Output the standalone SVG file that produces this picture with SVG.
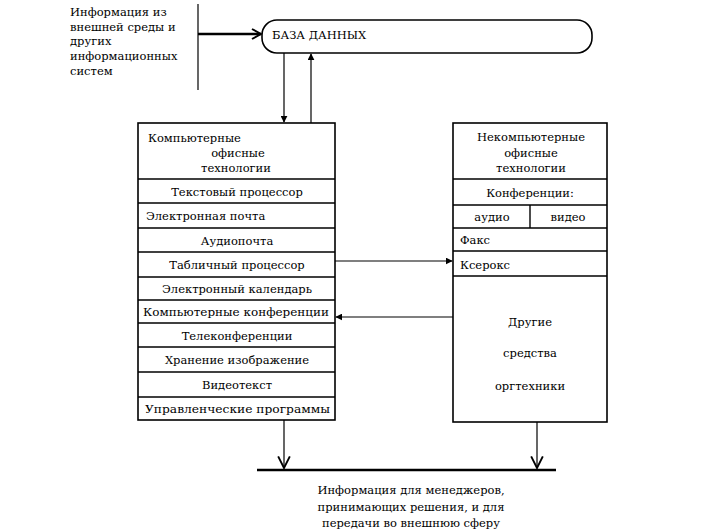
<svg xmlns="http://www.w3.org/2000/svg" width="705" height="531" viewBox="0 0 705 531">
<style>
text{font-family:"DejaVu Serif","Liberation Serif",serif;font-size:11.5px;fill:#000}
.c{text-anchor:middle}
.box{fill:#fff;stroke:#000;stroke-width:1.6}
.row{stroke:#000;stroke-width:1.4}
.ln{stroke:#000;stroke-width:1.2;fill:none}
.thick{stroke:#000;stroke-width:2.5;fill:none}
</style>
<defs>
<marker id="tri" viewBox="0 0 10 10" refX="9" refY="5" markerWidth="7" markerHeight="7" markerUnits="userSpaceOnUse" orient="auto">
<path d="M0,0 L10,5 L0,10 z" fill="#000"/>
</marker>
<marker id="vee" viewBox="0 0 12 12" refX="11" refY="6" markerWidth="14" markerHeight="14" markerUnits="userSpaceOnUse" orient="auto">
<path d="M1,1 L11,6 L1,11" fill="none" stroke="#000" stroke-width="1.6"/>
</marker>
<marker id="chev" viewBox="0 0 12 12" refX="11" refY="6" markerWidth="12" markerHeight="12" markerUnits="userSpaceOnUse" orient="auto">
<path d="M2,1 L11,6 L2,11" fill="none" stroke="#000" stroke-width="2"/>
</marker>
</defs>

<g id="source" font-family="DejaVu Serif, serif">
<text x="70" y="16">Информация из</text>
<text x="70" y="31">внешней среды и</text>
<text x="70" y="45">других</text>
<text x="70" y="60">информационных</text>
<text x="70" y="75">систем</text>
</g>

<g id="database">
<rect x="262" y="20" width="330" height="33" rx="15" ry="15" class="box"/>
<text x="272" y="39">БАЗА ДАННЫХ</text>
</g>

<g id="computer">
<rect x="138" y="123" width="197" height="297" class="box"/>
<line x1="138" y1="179" x2="335" y2="179" class="row"/>
<line x1="138" y1="203" x2="335" y2="203" class="row"/>
<line x1="138" y1="228" x2="335" y2="228" class="row"/>
<line x1="138" y1="252" x2="335" y2="252" class="row"/>
<line x1="138" y1="277" x2="335" y2="277" class="row"/>
<line x1="138" y1="300" x2="335" y2="300" class="row"/>
<line x1="138" y1="323" x2="335" y2="323" class="row"/>
<line x1="138" y1="347" x2="335" y2="347" class="row"/>
<line x1="138" y1="372" x2="335" y2="372" class="row"/>
<line x1="138" y1="397" x2="335" y2="397" class="row"/>
<text x="148" y="142">Компьютерные</text>
<text x="238" y="157" class="c">офисные</text>
<text x="236" y="172" class="c">технологии</text>
<text x="237" y="196" class="c">Текстовый процессор</text>
<text x="146" y="220">Электронная почта</text>
<text x="237" y="245" class="c">Аудиопочта</text>
<text x="237" y="269" class="c">Табличный процессор</text>
<text x="237" y="293" class="c">Электронный календарь</text>
<text x="236" y="316" class="c" textLength="186" lengthAdjust="spacingAndGlyphs">Компьютерные конференции</text>
<text x="237" y="340" class="c">Телеконференции</text>
<text x="237" y="364" class="c">Хранение изображение</text>
<text x="237" y="389" class="c">Видеотекст</text>
<text x="145" y="413" textLength="185" lengthAdjust="spacingAndGlyphs">Управленческие программы</text>
</g>

<g id="noncomputer">
<rect x="453" y="123" width="154" height="299" class="box"/>
<line x1="453" y1="179" x2="607" y2="179" class="row"/>
<line x1="453" y1="205" x2="607" y2="205" class="row"/>
<line x1="453" y1="228" x2="607" y2="228" class="row"/>
<line x1="453" y1="251" x2="607" y2="251" class="row"/>
<line x1="453" y1="276" x2="607" y2="276" class="row"/>
<line x1="530" y1="205" x2="530" y2="228" class="row"/>
<text x="531" y="141" class="c">Некомпьютерные</text>
<text x="531" y="157" class="c">офисные</text>
<text x="531" y="172" class="c">технологии</text>
<text x="530" y="197" class="c">Конференции:</text>
<text x="492" y="221" class="c">аудио</text>
<text x="568" y="221" class="c">видео</text>
<text x="460" y="244">Факс</text>
<text x="460" y="269">Ксерокс</text>
<text x="530" y="326" class="c">Другие</text>
<text x="530" y="357" class="c">средства</text>
<text x="530" y="390" class="c">оргтехники</text>
</g>

<g id="output">
<text x="411" y="494" class="c">Информация для менеджеров,</text>
<text x="411" y="511" class="c">принимающих решения, и для</text>
<text x="411" y="527" class="c">передачи во внешнюю сферу</text>
</g>

<g id="connectors">
<line x1="198" y1="4" x2="198" y2="90" class="ln" stroke-width="1.6"/>
<line x1="198" y1="34" x2="261" y2="34" class="thick" marker-end="url(#chev)"/>
<line x1="284" y1="53" x2="284" y2="122" class="ln" marker-end="url(#tri)"/>
<line x1="311" y1="123" x2="311" y2="54" class="ln" marker-end="url(#tri)"/>
<line x1="335" y1="261" x2="452" y2="261" class="ln" marker-end="url(#tri)"/>
<line x1="453" y1="317" x2="336" y2="317" class="ln" marker-end="url(#tri)"/>
<line x1="284" y1="420" x2="284" y2="468" class="ln" stroke-width="1.6" marker-end="url(#vee)"/>
<line x1="537" y1="422" x2="537" y2="468" class="ln" stroke-width="1.6" marker-end="url(#vee)"/>
<line x1="257" y1="470" x2="556" y2="470" class="thick"/>
</g>
</svg>
